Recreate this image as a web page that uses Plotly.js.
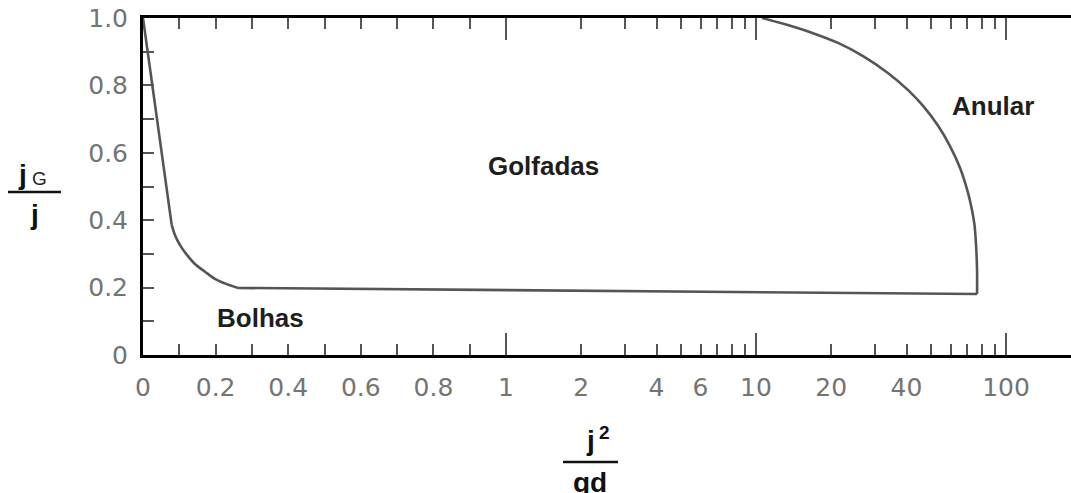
<!DOCTYPE html>
<html>
<head>
<meta charset="utf-8">
<script src="https://cdn.plot.ly/plotly-3.0.1.min.js"></script>
<style>
  html, body { margin: 0; padding: 0; background: #ffffff; }
  #chart { width: 1071px; height: 493px; }
</style>
</head>
<body>
<div id="chart"></div>
<script>
// ---- data (j^2/gd on x, jG/j on y) ----
// boundary Bolhas/Golfadas: steep straight part
var steepX = [0, 0.079];
var steepY = [1.0, 0.386];
// boundary Bolhas/Golfadas: curved knee
var kneeX = [0.079, 0.088, 0.102, 0.121, 0.143, 0.171, 0.198, 0.229, 0.262];
var kneeY = [0.386, 0.356, 0.326, 0.297, 0.270, 0.247, 0.226, 0.211, 0.199];
// boundary Bolhas/Golfadas: nearly flat part
var flatX = [0.262, 1, 10, 76.6];
var flatY = [0.199, 0.192, 0.186, 0.181];
// boundary Golfadas/Anular (from the corner up to the top axis)
var slugAnnularX = [76.6, 76.6, 75.9, 74.8, 73.1, 70.5, 65.5, 59.7, 53.5, 46.6, 40.6, 33.7, 26.8, 21.3, 16.9, 13.4, 10.57];
var slugAnnularY = [0.181, 0.252, 0.326, 0.386, 0.430, 0.481, 0.555, 0.620, 0.680, 0.739, 0.786, 0.837, 0.887, 0.926, 0.955, 0.979, 1.0];

// axis ticks and labels
var xLabelVals = [0, 0.2, 0.4, 0.6, 0.8, 1, 2, 4, 6, 10, 20, 40, 100];
var xLabelText = ["0", "0.2", "0.4", "0.6", "0.8", "1", "2", "4", "6", "10", "20", "40", "100"];
var xMajorTicks = [1, 10, 100];
var xMinorTicks = [0.1, 0.2, 0.3, 0.4, 0.5, 0.6, 0.7, 0.8, 0.9, 2, 3, 4, 5, 6, 7, 8, 9, 20, 30, 40, 50, 60, 70, 80, 90];
var yLabelVals = [0, 0.2, 0.4, 0.6, 0.8, 1.0];
var yLabelText = ["0", "0.2", "0.4", "0.6", "0.8", "1.0"];
var yMinorTicks = [0.1, 0.3, 0.5, 0.7, 0.9];

// regime labels
var regimeNames = ["Golfadas", "Anular", "Bolhas"];

// ---- mixed scale: linear 0..1, then logarithmic above 1 ----
var DECADE = 250 / 363; // width of one decade relative to the 0..1 linear span
function mix(v) { return v <= 1 ? v : 1 + Math.log10(v) * DECADE; }
var XMAX = 928 / 363;

var FAM = "Liberation Sans, Arial, sans-serif";
var tickFont = { family: "DejaVu Sans, sans-serif", size: 25, color: "#747474" };
var boldFont = { family: FAM, size: 26, color: "#1e1e1e", weight: "bold" };
var titleFont = { family: FAM, size: 28, color: "#111111", weight: "bold" };

var lineStyle = { color: "#555555", width: 2.6 };
var splineStyle = { color: "#555555", width: 2.6, shape: "spline", smoothing: 0.8 };

function tr(xs, ys, style) {
  return { x: xs.map(mix), y: ys, mode: "lines", line: style, hoverinfo: "skip", showlegend: false, xaxis: "x", yaxis: "y" };
}

var traces = [
  tr(steepX, steepY, lineStyle),
  tr(kneeX, kneeY, splineStyle),
  tr(flatX, flatY, lineStyle),
  tr(slugAnnularX, slugAnnularY, splineStyle),
  { x: [null], y: [null], mode: "lines", hoverinfo: "skip", showlegend: false, xaxis: "x2", yaxis: "y" }
];

function px2paperX(px) { return (px - 143) / 928; }
function px2paperY(py) { return (355 - py) / 337; }

var layout = {
  width: 1071, height: 493,
  margin: { l: 143, r: 0, t: 18, b: 138, pad: 0 },
  paper_bgcolor: "#ffffff", plot_bgcolor: "#ffffff",
  showlegend: false,
  xaxis: {
    range: [0, XMAX], fixedrange: true,
    tickmode: "array", tickvals: xLabelVals.map(mix), ticktext: xLabelText,
    ticks: "", showgrid: false, zeroline: false,
    showline: true, linecolor: "#000000", linewidth: 3, mirror: true,
    tickfont: tickFont, ticklabelstandoff: 8
  },
  xaxis2: {
    range: [0, XMAX], overlaying: "x", anchor: "y", side: "bottom", fixedrange: true,
    tickmode: "array", tickvals: xMajorTicks.map(mix), showticklabels: false,
    ticks: "inside", ticklen: 22, tickwidth: 2, tickcolor: "#555555", mirror: "ticks",
    showline: false, showgrid: false, zeroline: false,
    minor: { tickmode: "array", tickvals: xMinorTicks.map(mix), ticks: "inside", ticklen: 11, tickwidth: 2, tickcolor: "#555555", showgrid: false }
  },
  yaxis: {
    range: [0, 1], fixedrange: true,
    tickmode: "array", tickvals: yLabelVals, ticktext: yLabelText,
    ticks: "inside", ticklen: 11, tickwidth: 2, tickcolor: "#555555",
    minor: { tickmode: "array", tickvals: yMinorTicks, ticks: "inside", ticklen: 11, tickwidth: 2, tickcolor: "#555555", showgrid: false },
    showline: true, linecolor: "#000000", linewidth: 3, mirror: false,
    showgrid: false, zeroline: false,
    tickfont: tickFont, ticklabelstandoff: 7
  },
  annotations: [
    { text: regimeNames[0], x: px2paperX(543), y: px2paperY(166), xref: "paper", yref: "paper", showarrow: false, font: boldFont, xanchor: "center", yanchor: "middle" },
    { text: regimeNames[1], x: px2paperX(993), y: px2paperY(106), xref: "paper", yref: "paper", showarrow: false, font: boldFont, xanchor: "center", yanchor: "middle" },
    { text: regimeNames[2], x: px2paperX(260), y: px2paperY(318), xref: "paper", yref: "paper", showarrow: false, font: boldFont, xanchor: "center", yanchor: "middle" },
    // y-axis title: jG / j
    { text: "j", x: px2paperX(22), y: px2paperY(174), xref: "paper", yref: "paper", showarrow: false, font: titleFont, xanchor: "center", yanchor: "middle" },
    { text: "G", x: px2paperX(39), y: px2paperY(179), xref: "paper", yref: "paper", showarrow: false, font: { family: FAM, size: 19, color: "#222222" }, xanchor: "center", yanchor: "middle" },
    { text: "j", x: px2paperX(34), y: px2paperY(214), xref: "paper", yref: "paper", showarrow: false, font: titleFont, xanchor: "center", yanchor: "middle" },
    // x-axis title: j^2 / gd
    { text: "j", x: px2paperX(590), y: px2paperY(440), xref: "paper", yref: "paper", showarrow: false, font: titleFont, xanchor: "center", yanchor: "middle" },
    { text: "2", x: px2paperX(604), y: px2paperY(432), xref: "paper", yref: "paper", showarrow: false, font: { family: FAM, size: 19, color: "#111111", weight: "bold" }, xanchor: "center", yanchor: "middle" },
    { text: "gd", x: px2paperX(590), y: px2paperY(482), xref: "paper", yref: "paper", showarrow: false, font: titleFont, xanchor: "center", yanchor: "middle" }
  ],
  shapes: [
    { type: "line", xref: "paper", yref: "paper", x0: px2paperX(8), x1: px2paperX(61), y0: px2paperY(192), y1: px2paperY(192), line: { color: "#111111", width: 2.5 } },
    { type: "line", xref: "paper", yref: "paper", x0: px2paperX(563), x1: px2paperX(618), y0: px2paperY(462), y1: px2paperY(462), line: { color: "#111111", width: 2.5 } }
  ]
};

Plotly.newPlot("chart", traces, layout, { staticPlot: true, displayModeBar: false });
</script>
</body>
</html>
